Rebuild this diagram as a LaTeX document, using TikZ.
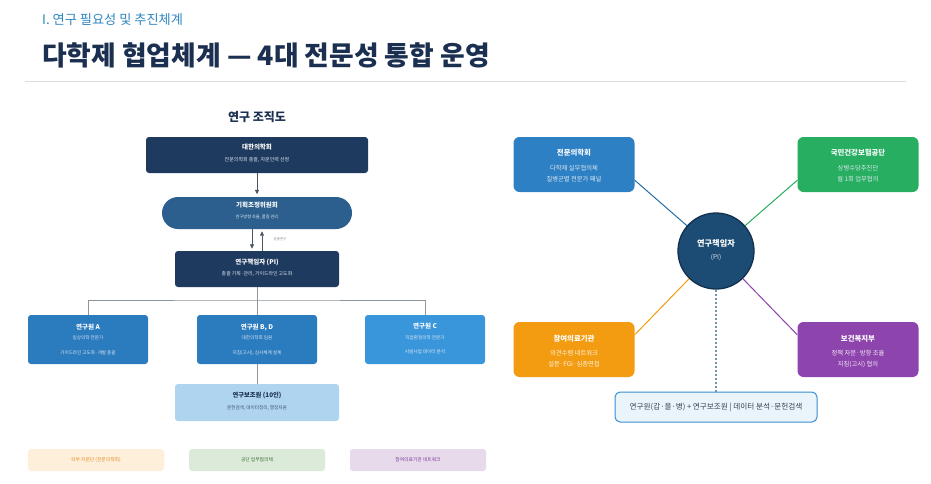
\documentclass[tikz,border=0pt]{standalone}
\usepackage{fontspec}
\setmainfont{Noto Sans CJK KR}
\usetikzlibrary{arrows.meta}
\definecolor{navy}{HTML}{1F3A5F}
\definecolor{ttlc}{HTML}{1B2F50}
\definecolor{subc}{HTML}{2E86C1}
\definecolor{midc}{HTML}{2C5F8E}
\definecolor{rblue}{HTML}{2B7BBF}
\definecolor{cblue}{HTML}{3A96DB}
\definecolor{lblue}{HTML}{AED4F0}
\definecolor{treec}{HTML}{8C949C}
\definecolor{arrc}{HTML}{4A5560}
\definecolor{subw}{HTML}{DCE8F3}
\definecolor{sepc}{HTML}{DDDDDD}
\definecolor{lgO}{HTML}{FDEFD9}
\definecolor{lgOt}{HTML}{E58E26}
\definecolor{lgG}{HTML}{DCEBD9}
\definecolor{lgGt}{HTML}{3B6E3B}
\definecolor{lgP}{HTML}{E7DAEB}
\definecolor{lgPt}{HTML}{7D3C98}
\definecolor{spc}{HTML}{2E80C4}
\definecolor{nhc}{HTML}{27AE60}
\definecolor{hoc}{HTML}{F39C12}
\definecolor{moc}{HTML}{8E44AD}
\definecolor{pif}{HTML}{1C4B73}
\definecolor{pid}{HTML}{13314F}
\definecolor{dotc}{HTML}{6A95B5}
\definecolor{teamf}{HTML}{EAF4FB}
\definecolor{teamd}{HTML}{3A8FD0}
\definecolor{teamt}{HTML}{34404C}
\tikzset{
  obox/.style={draw=none, rounded corners=3pt, inner sep=0pt},
  rbox/.style={draw=none, rounded corners=6pt, inner sep=0pt, minimum width=121pt, minimum height=55pt},
  tw/.style={inner sep=0pt, text=white},
  ts/.style={inner sep=0pt, text=subw},
  tline/.style={draw=treec, line width=0.8pt},
  arr/.style={draw=arrc, line width=0.8pt, -{Triangle[length=4.5pt,width=4pt]}},
  ft/.style={font={\fontsize{6.5}{8}\selectfont\bfseries}},
  fs/.style={font={\fontsize{4.6}{6}\selectfont}},
  rt/.style={font={\fontsize{7.4}{9}\selectfont\bfseries}},
  rs/.style={font={\fontsize{6.3}{8}\selectfont}},
  lgbox/.style={draw=none, rounded corners=3pt, inner sep=0pt, minimum width=136pt, minimum height=22pt, font={\fontsize{4.8}{6}\selectfont}},
  conn/.style={line width=1pt}
}
\begin{document}
\begin{tikzpicture}[x=1pt,y=-1pt]
\useasboundingbox (0,0) rectangle (931,483);
\fill[white] (0,0) rectangle (931,483);

% header
\node[anchor=west, inner sep=0pt, text=subc, font={\fontsize{13.2}{15}\selectfont}] (subt) at (42,20) {I. 연구 필요성 및 추진체계};
\node[anchor=west, inner sep=0pt, text=ttlc, font={\fontsize{26.8}{30}\selectfont\bfseries}] (ttl) at (42,55) {다학제 협업체계 — 4대 전문성 통합 운영};
\draw[sepc, line width=0.8pt] (25,81) -- (906,81);

% org chart
\node[inner sep=0pt, text=ttlc, font={\fontsize{12}{14}\selectfont\bfseries}] (orgt) at (257,117) {연구 조직도};

\node[obox, fill=navy, minimum width=222pt, minimum height=36pt] (kams) at (257,155) {};
\node[tw, ft] (kamsT) at (257,147) {대한의학회};
\node[ts, font={\fontsize{5}{6}\selectfont}] (kamsS) at (257,160) {전문의학회 총괄, 자문인력 선정};

\node[obox, rounded corners=16pt, fill=midc, minimum width=190pt, minimum height=32pt] (coord) at (257,213) {};
\node[tw, ft] (coordT) at (257,205) {기획조정위원회};
\node[ts, font={\fontsize{4.2}{5}\selectfont}] (coordS) at (257,217) {연구방향 조율, 품질 관리};

\node[obox, fill=navy, minimum width=164pt, minimum height=36pt] (pi) at (257,269) {};
\node[tw, ft] (piT) at (257,262) {연구책임자 (PI)};
\node[ts, font={\fontsize{4.9}{6}\selectfont}] (piS) at (257,274) {총괄 기획·관리, 가이드라인 고도화};

\draw[arr, shorten >=2.5pt] (kams.south) -- (coord.north);
\draw[arr, shorten >=2pt] ([xshift=-5pt]coord.south) -- ([xshift=-5pt]pi.north);
\draw[arr, shorten >=2pt] ([xshift=5pt]pi.north) -- ([xshift=5pt]coord.south);
\node[inner sep=0pt, text=gray, font={\fontsize{3.4}{4}\selectfont}] (jl) at (280,239) {공동연구};

\node[obox, fill=rblue, minimum width=120pt, minimum height=49pt] (ra) at (88,339.5) {};
\node[tw, ft] (raT) at (88,327) {연구원 A};
\node[ts, fs] (raS) at (88,338) {임상의학 전문가};
\node[ts, fs] (raR) at (88,353) {가이드라인 고도화·개발 총괄};

\node[obox, fill=rblue, minimum width=120pt, minimum height=49pt] (rbd) at (257,339.5) {};
\node[tw, ft] (rbdT) at (257,327) {연구원 B, D};
\node[ts, fs] (rbdS) at (257,338) {대한의학회 임원};
\node[ts, fs] (rbdR) at (257,353) {지침(고시), 심사체계 설계};

\node[obox, fill=cblue, minimum width=120pt, minimum height=49pt] (rc) at (425,339.5) {};
\node[tw, ft] (rcT) at (425,326) {연구원 C};
\node[ts, fs] (rcS) at (425,338) {직업환경의학 전문가};
\node[ts, fs] (rcR) at (425,352) {시범사업 데이터 분석};

\coordinate (bus) at (257,300);
\draw[tline] (pi.south) -- (bus);
\draw[tline] (ra.north) |- (bus) -| (rc.north);
\draw[tline] (rbd.north) -- (bus);

\node[obox, fill=lblue, minimum width=164pt, minimum height=37pt] (asst) at (257,402.5) {};
\node[inner sep=0pt, text=ttlc, font={\fontsize{6.3}{8}\selectfont\bfseries}] (asstT) at (257,395) {연구보조원 (10인)};
\node[inner sep=0pt, text=ttlc!85, fs] (asstS) at (257,408) {문헌검색, 데이터정리, 행정지원};
\draw[tline] (rbd.south) -- (asst.north);

% legend
\node[lgbox, fill=lgO, text=lgOt] (lg1) at (96,460) {외부 자문단 (전문의학회)};
\node[lgbox, fill=lgG, text=lgGt] (lg2) at (257,460) {공단 업무협의체};
\node[lgbox, fill=lgP, text=lgPt] (lg3) at (418,460) {참여의료기관 네트워크};

% right network
\node[circle, fill=pif, draw=pid, line width=1.3pt, minimum size=76pt, inner sep=0pt] (pic) at (716,251) {};
\node[tw, font={\fontsize{8.2}{10}\selectfont\bfseries}] (picT) at (716,243) {연구책임자};
\node[inner sep=0pt, text=subw, font={\fontsize{6.5}{8}\selectfont}] (picS) at (716,257) {(PI)};

\node[rbox, fill=spc] (sp) at (574,164.5) {};
\node[tw, rt] (spT) at (574,153) {전문의학회};
\node[ts, rs] (spA) at (574,168) {다학제 실무협의체};
\node[ts, rs] (spB) at (574,179.5) {질병군별 전문가 패널};

\node[rbox, fill=nhc] (nh) at (858,164.5) {};
\node[tw, rt] (nhT) at (858,153) {국민건강보험공단};
\node[ts, rs] (nhA) at (858,168) {상병수당추진단};
\node[ts, rs] (nhB) at (858,179.5) {월 1회 업무협의};

\node[rbox, fill=hoc] (ho) at (574,349.5) {};
\node[tw, rt] (hoT) at (574,339) {참여의료기관};
\node[inner sep=0pt, text=white!88!hoc, rs] (hoA) at (574,353) {의견수렴 네트워크};
\node[inner sep=0pt, text=white!88!hoc, rs] (hoB) at (574,364) {설문·FGI·심층면접};

\node[rbox, fill=moc] (mo) at (858,349.5) {};
\node[tw, rt] (moT) at (858,339) {보건복지부};
\node[inner sep=0pt, text=white!88!moc, rs] (moA) at (858,353) {정책 자문·방향 조율};
\node[inner sep=0pt, text=white!88!moc, rs] (moB) at (858,364) {지침(고시) 협의};

\coordinate (spP) at ([yshift=12pt]sp.south east);
\coordinate (nhP) at ([yshift=12pt]nh.south west);
\coordinate (hoP) at ([yshift=-13pt]ho.north east);
\coordinate (moP) at ([yshift=-13pt]mo.north west);
\draw[conn, draw=spc!85!black] (spP) -- (pic);
\draw[conn, draw=nhc] (nhP) -- (pic);
\draw[conn, draw=hoc] (hoP) -- (pic);
\draw[conn, draw=moc] (moP) -- (pic);

\node[draw=teamd, fill=teamf, line width=1pt, rounded corners=5pt, minimum width=202pt, minimum height=30pt, inner sep=0pt, text=teamt, font={\fontsize{7.6}{9}\selectfont}] (team) at (716,407) {연구원(갑·을·병) + 연구보조원 | 데이터 분석·문헌검색};
\draw[draw=dotc, line width=1.2pt, dash pattern=on 2pt off 2pt] (pic.south) -- (team.north);
\end{tikzpicture}
\end{document}
